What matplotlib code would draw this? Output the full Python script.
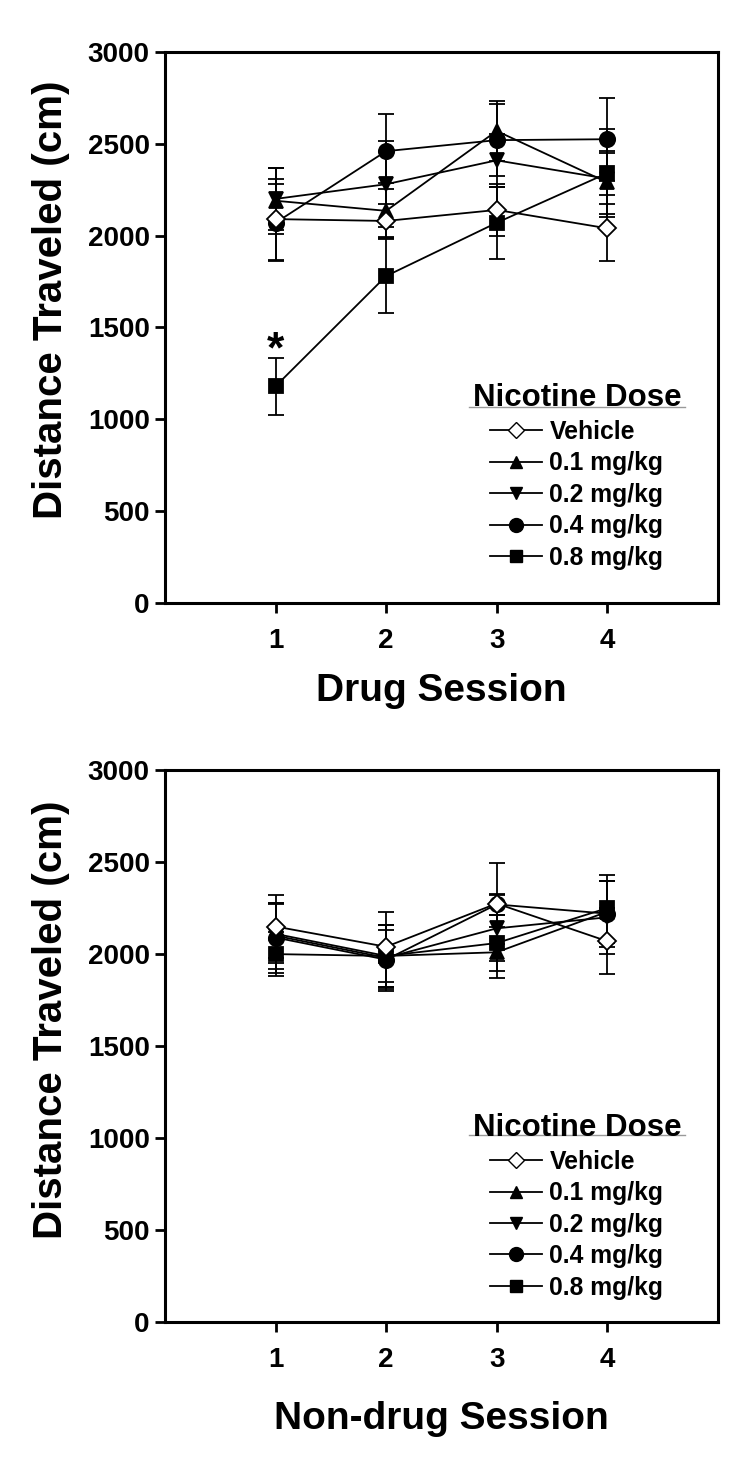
import matplotlib
matplotlib.use("Agg")
import matplotlib.pyplot as plt
from matplotlib.lines import Line2D

sessions = [1, 2, 3, 4]
dose_labels = ["Vehicle", "0.1 mg/kg", "0.2 mg/kg", "0.4 mg/kg", "0.8 mg/kg"]

# drug sessions (mean, sem)
drug_vehicle = [2090, 2080, 2140, 2040]
drug_vehicle_sem = [220, 90, 140, 180]
drug_01 = [2190, 2135, 2570, 2290]
drug_01_sem = [180, 150, 165, 170]
drug_02 = [2200, 2280, 2410, 2310]
drug_02_sem = [170, 235, 145, 140]
drug_04 = [2070, 2460, 2520, 2525]
drug_04_sem = [210, 205, 195, 227]
drug_08 = [1180, 1780, 2070, 2340]
drug_08_sem = [155, 200, 195, 240]

# non-drug sessions (mean, sem)
nondrug_vehicle = [2150, 2040, 2275, 2070]
nondrug_vehicle_sem = [170, 190, 220, 180]
nondrug_01 = [2110, 1990, 2010, 2230]
nondrug_01_sem = [160, 170, 140, 170]
nondrug_02 = [2100, 1980, 2140, 2200]
nondrug_02_sem = [180, 180, 180, 200]
nondrug_04 = [2090, 1970, 2270, 2220]
nondrug_04_sem = [190, 160, 55, 180]
nondrug_08 = [2000, 1990, 2060, 2250]
nondrug_08_sem = [120, 170, 150, 180]

markers = [("D", "white", 9), ("^", "black", 10), ("v", "black", 10),
           ("o", "black", 11), ("s", "black", 10)]

plt.rcParams["font.family"] = ["Liberation Sans", "DejaVu Sans"]
plt.rcParams["font.weight"] = "bold"

fig = plt.figure(figsize=(7.5, 14.6), dpi=100)
ax1 = fig.add_axes([0.22, 0.587, 0.737, 0.3774])
ax2 = fig.add_axes([0.22, 0.0945, 0.737, 0.378])


def draw(ax, means, sems, xlabel, xlabelpad, ylabel_y, title_y, leg_y, line_y):
    order = [4, 3, 2, 1, 0]
    for i in order:
        m, fc, ms = markers[i]
        ax.errorbar(sessions, means[i], yerr=sems[i], fmt="-", color="black",
                    marker=m, markerfacecolor=fc, markeredgecolor="black",
                    markersize=ms, markeredgewidth=1.3, linewidth=1.3,
                    elinewidth=1.3, capsize=6, capthick=1.3, zorder=3 + (5 - i))
    ax.set_xlim(0, 5)
    ax.set_ylim(0, 3000)
    ax.set_xticks(sessions)
    ax.set_yticks(range(0, 3001, 500))
    ax.tick_params(direction="out", length=7, width=2, labelsize=20)
    ax.tick_params(axis="x", pad=11)
    ax.tick_params(axis="y", pad=4)
    for lab in ax.get_xticklabels() + ax.get_yticklabels():
        lab.set_fontweight("bold")
    for sp in ax.spines.values():
        sp.set_linewidth(2.2)
    ax.set_ylabel("Distance Traveled (cm)", fontsize=29, fontweight="bold")
    ax.yaxis.set_label_coords(-0.172, ylabel_y)
    ax.set_xlabel(xlabel, fontsize=28, fontweight="bold", labelpad=xlabelpad)

    # legend title drawn separately so that it sits left of the handles
    ax.text(0.557, title_y, "Nicotine Dose", transform=ax.transAxes,
            ha="left", va="center", fontsize=22.5, fontweight="bold")
    ax.plot([0.55, 0.94], [line_y, line_y], transform=ax.transAxes,
            color="#999999", linewidth=1.0, clip_on=False)

    handles = []
    for i in range(5):
        m, fc, ms = markers[i]
        handles.append(Line2D([], [], color="black", linewidth=1.3, marker=m,
                              markerfacecolor=fc, markeredgecolor="black",
                              markersize=ms - 1))
    ax.legend(handles, dose_labels, loc="upper left", bbox_to_anchor=(0.588, leg_y),
              frameon=False, handlelength=2.1, handletextpad=0.3, labelspacing=0.3,
              borderpad=0, borderaxespad=0,
              prop={"size": 17.8, "weight": "bold"})


draw(ax1,
     [drug_vehicle, drug_01, drug_02, drug_04, drug_08],
     [drug_vehicle_sem, drug_01_sem, drug_02_sem, drug_04_sem, drug_08_sem],
     "Drug Session", 14, 0.55, 0.372, 0.332, 0.356)
ax1.text(1, 1375, "*", ha="center", va="center", fontsize=32, fontweight="bold")

draw(ax2,
     [nondrug_vehicle, nondrug_01, nondrug_02, nondrug_04, nondrug_08],
     [nondrug_vehicle_sem, nondrug_01_sem, nondrug_02_sem, nondrug_04_sem, nondrug_08_sem],
     "Non-drug Session", 20, 0.547, 0.352, 0.312, 0.339)

fig.savefig("out.png", dpi=100)
